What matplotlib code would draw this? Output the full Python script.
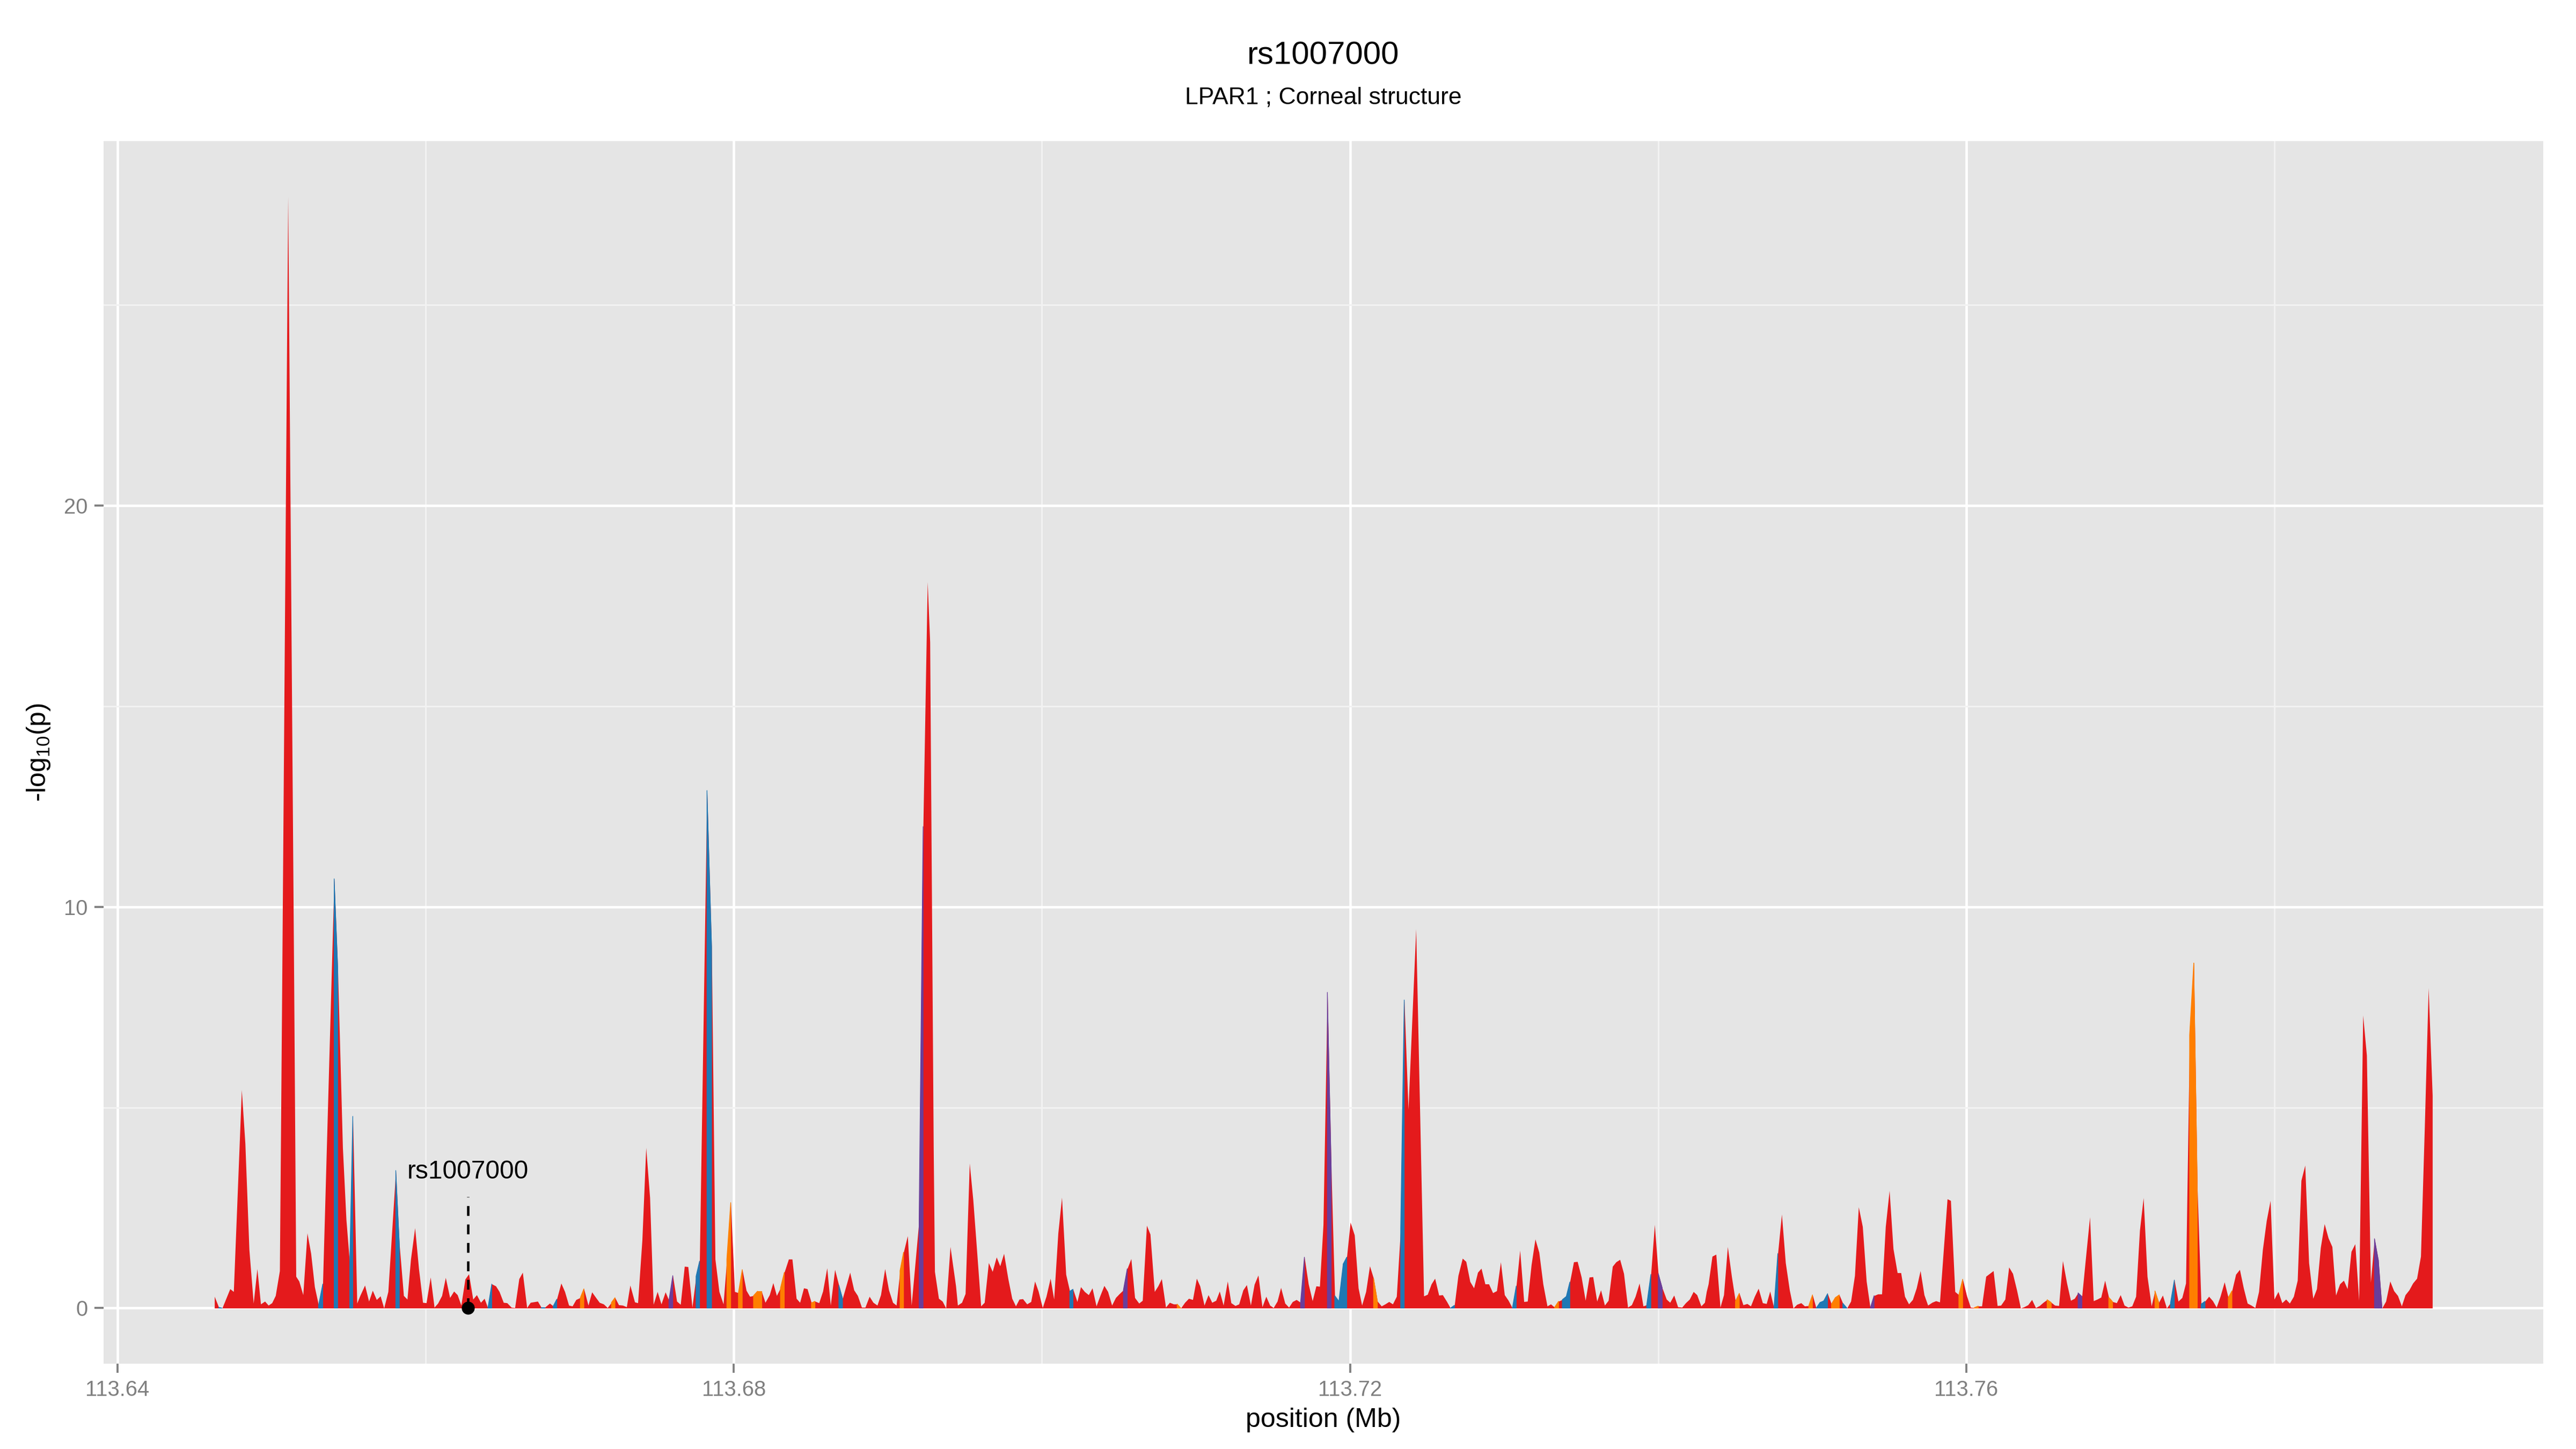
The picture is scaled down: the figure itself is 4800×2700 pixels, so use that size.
import matplotlib.pyplot as plt
import numpy as np
from matplotlib.collections import PolyCollection

plt.rcParams['font.family'] = ['Liberation Sans', 'DejaVu Sans']
plt.rcParams['mathtext.default'] = 'regular'

snp_name = 'rs1007000'
snp_position = 113.66273
subtitle = 'LPAR1 ; Corneal structure'

# SNP positions (Mb) and -log10(p)
position = [
    113.64629, 113.64657, 113.64679, 113.64730, 113.64753, 113.64805, 113.64828, 113.64854, 113.64882, 113.64906,
    113.64929, 113.64956, 113.64979, 113.65002, 113.65025, 113.65052, 113.65067, 113.65106, 113.65145, 113.65158,
    113.65178, 113.65204, 113.65231, 113.65255, 113.65279, 113.65305, 113.65332, 113.65406, 113.65429, 113.65461,
    113.65484, 113.65507, 113.65527, 113.65554, 113.65574, 113.65605, 113.65631, 113.65655, 113.65681, 113.65706,
    113.65729, 113.65756, 113.65806, 113.65829, 113.65857, 113.65880, 113.65903, 113.65930, 113.65955, 113.65981,
    113.66004, 113.66031, 113.66056, 113.66079, 113.66105, 113.66129, 113.66157, 113.66183, 113.66206, 113.66230,
    113.66256, 113.66280, 113.66307, 113.66331, 113.66357, 113.66381, 113.66404, 113.66429, 113.66455, 113.66478,
    113.66505, 113.66528, 113.66556, 113.66579, 113.66606, 113.66629, 113.66657, 113.66680, 113.66727, 113.66750,
    113.66774, 113.66805, 113.66828, 113.66851, 113.66879, 113.66903, 113.66929, 113.66952, 113.66976,
    113.67004, 113.67027, 113.67055, 113.67079, 113.67105, 113.67128, 113.67155, 113.67180, 113.67206, 113.67229,
    113.67253, 113.67279, 113.67304, 113.67327, 113.67357, 113.67377, 113.67405, 113.67430, 113.67455, 113.67478,
    113.67504, 113.67529, 113.67556, 113.67579, 113.67604, 113.67630, 113.67654, 113.67680, 113.67703, 113.67730,
    113.67755, 113.67778, 113.67826, 113.67856, 113.67879, 113.67905, 113.67932, 113.67955, 113.67980, 113.68006,
    113.68030, 113.68055, 113.68081, 113.68104, 113.68128, 113.68154, 113.68180, 113.68204, 113.68232, 113.68255,
    113.68278, 113.68303, 113.68328, 113.68356, 113.68379, 113.68406, 113.68429, 113.68454, 113.68477, 113.68504,
    113.68527, 113.68553, 113.68578, 113.68605, 113.68628, 113.68656, 113.68682, 113.68706, 113.68729, 113.68754,
    113.68780, 113.68804, 113.68830, 113.68853, 113.68880, 113.68905, 113.68931, 113.68954, 113.68981, 113.69006,
    113.69032, 113.69055, 113.69079, 113.69102, 113.69128, 113.69153, 113.69203, 113.69229, 113.69257, 113.69273,
    113.69296, 113.69304, 113.69330, 113.69354, 113.69377, 113.69405,
    113.69441, 113.69453, 113.69480, 113.69503, 113.69530, 113.69553, 113.69578, 113.69604, 113.69627, 113.69654,
    113.69679, 113.69705, 113.69728, 113.69753, 113.69780, 113.69806, 113.69830, 113.69853, 113.69876, 113.69903,
    113.69929, 113.69954, 113.69977, 113.70004, 113.70028, 113.70055, 113.70078, 113.70105, 113.70129, 113.70156,
    113.70181, 113.70202, 113.70229, 113.70252, 113.70277, 113.70303, 113.70327, 113.70353, 113.70378, 113.70404,
    113.70428, 113.70454, 113.70479, 113.70504, 113.70529, 113.70554, 113.70579, 113.70603, 113.70630, 113.70653,
    113.70680, 113.70703, 113.70731, 113.70754, 113.70777, 113.70804, 113.70829, 113.70855, 113.70878, 113.70902,
    113.70928, 113.70953, 113.70979, 113.71004, 113.71026, 113.71054, 113.71080, 113.71104, 113.71130, 113.71153,
    113.71178, 113.71205, 113.71228, 113.71255, 113.71279, 113.71306, 113.71329, 113.71355, 113.71379, 113.71404,
    113.71430, 113.71455, 113.71480, 113.71503, 113.71528, 113.71551, 113.71578, 113.71603, 113.71627, 113.71652,
    113.71679, 113.71704, 113.71730, 113.71756, 113.71780, 113.71803, 113.71826, 113.71853,
    113.71878, 113.71901, 113.71928, 113.71956, 113.71979, 113.72002, 113.72029, 113.72054, 113.72077, 113.72103,
    113.72128, 113.72153, 113.72178, 113.72204, 113.72228, 113.72253, 113.72277, 113.72302, 113.72329, 113.72352,
    113.72378, 113.72428, 113.72479, 113.72503, 113.72528, 113.72551, 113.72577, 113.72601, 113.72627, 113.72652,
    113.72678, 113.72702, 113.72730, 113.72753, 113.72779, 113.72804, 113.72829, 113.72852, 113.72877, 113.72901,
    113.72927, 113.72952, 113.72978, 113.73003, 113.73028, 113.73054, 113.73079, 113.73103, 113.73129, 113.73152,
    113.73177, 113.73202, 113.73227, 113.73253, 113.73280, 113.73303, 113.73328, 113.73354, 113.73378, 113.73404,
    113.73427, 113.73452, 113.73476, 113.73502, 113.73528, 113.73553, 113.73577, 113.73603, 113.73628, 113.73653,
    113.73677, 113.73704, 113.73727, 113.73752, 113.73777, 113.73803, 113.73828, 113.73852, 113.73878, 113.73903,
    113.73926, 113.73953, 113.73977, 113.74001, 113.74027, 113.74054, 113.74077, 113.74103, 113.74128, 113.74155,
    113.74179, 113.74204, 113.74229, 113.74252, 113.74279, 113.74302,
    113.74314, 113.74326, 113.74351, 113.74376, 113.74403, 113.74426, 113.74451, 113.74477, 113.74502, 113.74527,
    113.74552, 113.74578, 113.74601, 113.74626, 113.74651, 113.74678, 113.74703, 113.74726, 113.74752, 113.74777,
    113.74802, 113.74827, 113.74853, 113.74877, 113.74901, 113.74928, 113.74951, 113.74978, 113.75002, 113.75026,
    113.75051, 113.75075, 113.75100, 113.75125, 113.75150, 113.75176, 113.75199, 113.75226, 113.75251, 113.75276,
    113.75301, 113.75327, 113.75352, 113.75377, 113.75402, 113.75427, 113.75452, 113.75476, 113.75501, 113.75526,
    113.75553, 113.75576, 113.75601, 113.75627, 113.75652, 113.75677, 113.75702, 113.75727, 113.75751, 113.75778,
    113.75803, 113.75828, 113.75877, 113.75899, 113.75927, 113.75952, 113.75977, 113.76003, 113.76028, 113.76051,
    113.76078, 113.76101, 113.76128, 113.76152, 113.76176, 113.76202, 113.76225, 113.76252, 113.76277, 113.76302,
    113.76328, 113.76353, 113.76376, 113.76401, 113.76426, 113.76451, 113.76476, 113.76500, 113.76525, 113.76552,
    113.76575, 113.76601, 113.76626, 113.76653, 113.76678, 113.76703, 113.76726,
    113.76751, 113.76776, 113.76802, 113.76826, 113.76850, 113.76875, 113.76900, 113.76925, 113.76950, 113.76976,
    113.77001, 113.77026, 113.77051, 113.77076, 113.77101, 113.77126, 113.77150, 113.77175, 113.77202, 113.77225,
    113.77250, 113.77275, 113.77301, 113.77326, 113.77351, 113.77376, 113.77401, 113.77425, 113.77450, 113.77477,
    113.77500, 113.77525, 113.77550, 113.77575, 113.77600, 113.77624, 113.77649, 113.77676, 113.77701, 113.77725,
    113.77750, 113.77775, 113.77800, 113.77825, 113.77850, 113.77875, 113.77899, 113.77924, 113.77949, 113.77974,
    113.77999, 113.78025, 113.78050, 113.78075, 113.78099, 113.78125, 113.78150, 113.78174, 113.78199, 113.78224,
    113.78251, 113.78275, 113.78300, 113.78325, 113.78350, 113.78375, 113.78399, 113.78425, 113.78450, 113.78474,
    113.78499, 113.78524, 113.78549, 113.78575, 113.78599, 113.78625, 113.78650, 113.78675, 113.78699, 113.78724,
    113.78751, 113.78776, 113.78801, 113.78826, 113.78850, 113.78875, 113.78899, 113.78925, 113.78950, 113.78975,
    113.79000, 113.79026,
]

log_p = [
    0.29, 0.02, 0.00, 0.48, 0.41, 5.44, 4.10, 1.46, 0.12, 0.98,
    0.10, 0.17, 0.07, 0.13, 0.31, 0.93, 8.00, 27.70, 8.00, 0.79,
    0.67, 0.33, 1.87, 1.36, 0.53, 0.07, 0.60, 10.70, 8.50, 4.00,
    2.20, 1.10, 4.78, 0.12, 0.31, 0.57, 0.17, 0.44, 0.21, 0.30,
    0.00, 0.41, 3.43, 1.60, 0.31, 0.22, 1.22, 2.00, 0.98, 0.14,
    0.13, 0.77, 0.02, 0.12, 0.31, 0.76, 0.26, 0.42, 0.33, 0.07,
    0.72, 0.85, 0.22, 0.33, 0.14, 0.24, 0.00, 0.60, 0.55, 0.41,
    0.14, 0.13, 0.02, 0.01, 0.73, 0.89, 0.01, 0.14, 0.17, 0.02,
    0.02, 0.12, 0.05, 0.22, 0.62, 0.41, 0.07, 0.05, 0.21,
    0.26, 0.48, 0.07, 0.40, 0.26, 0.14, 0.10, 0.01, 0.14, 0.26,
    0.08, 0.07, 0.03, 0.57, 0.15, 0.13, 1.70, 4.00, 2.75, 0.09,
    0.41, 0.10, 0.40, 0.19, 0.81, 0.17, 0.09, 1.04, 1.03, 0.02,
    0.79, 1.17, 12.90, 9.00, 1.22, 0.41, 0.10, 1.22, 2.63, 0.41,
    0.38, 0.96, 0.44, 0.29, 0.31, 0.42, 0.42, 0.14, 0.33, 0.63,
    0.31, 0.50, 0.89, 1.22, 1.22, 0.24, 0.14, 0.50, 0.48, 0.13,
    0.17, 0.13, 0.42, 1.00, 0.07, 0.96, 0.57, 0.24, 0.55, 0.89,
    0.45, 0.31, 0.02, 0.02, 0.29, 0.14, 0.07, 0.33, 0.98, 0.45,
    0.14, 0.07, 0.93, 1.39, 1.80, 0.07, 2.20, 12.00, 18.10, 16.60,
    4.00, 0.91, 0.24, 0.17, 0.00, 1.53,
    0.55, 0.07, 0.14, 0.36, 3.61, 2.70, 1.41, 0.05, 0.14, 1.13,
    0.91, 1.27, 1.05, 1.36, 0.74, 0.24, 0.05, 0.22, 0.23, 0.10,
    0.16, 0.67, 0.42, 0.01, 0.29, 0.74, 0.22, 1.87, 2.76, 0.84,
    0.42, 0.47, 0.16, 0.53, 0.41, 0.33, 0.50, 0.05, 0.31, 0.56,
    0.41, 0.07, 0.26, 0.36, 0.45, 0.98, 1.23, 0.26, 0.12, 0.19,
    2.06, 1.84, 0.41, 0.55, 0.73, 0.02, 0.14, 0.10, 0.10, 0.00,
    0.14, 0.24, 0.21, 0.74, 0.55, 0.07, 0.33, 0.14, 0.19, 0.42,
    0.07, 0.67, 0.13, 0.06, 0.10, 0.45, 0.58, 0.07, 0.59, 0.82,
    0.03, 0.29, 0.07, 0.01, 0.17, 0.51, 0.12, 0.02, 0.16, 0.21,
    0.14, 1.27, 0.60, 0.18, 0.55, 0.54, 2.08, 7.87,
    3.50, 0.31, 0.17, 1.10, 1.27, 2.14, 1.82, 0.50, 0.07, 0.41,
    1.05, 0.74, 0.17, 0.05, 0.10, 0.16, 0.10, 0.29, 2.00, 7.68,
    4.95, 9.45, 0.30, 0.34, 0.60, 0.74, 0.32, 0.33, 0.17, 0.00,
    0.07, 0.81, 1.24, 1.16, 0.66, 0.50, 0.89, 0.99, 0.60, 0.60,
    0.38, 0.43, 1.15, 0.33, 0.19, 0.00, 0.55, 1.44, 0.16, 0.17,
    1.08, 1.72, 1.39, 0.60, 0.05, 0.10, 0.02, 0.17, 0.21, 0.29,
    0.65, 1.15, 1.16, 0.77, 0.19, 0.77, 0.78, 0.17, 0.45, 0.07,
    0.19, 1.04, 1.15, 1.21, 0.86, 0.02, 0.08, 0.29, 0.62, 0.05,
    0.08, 0.84, 2.08, 0.86, 0.50, 0.22, 0.14, 0.32, 0.03, 0.02,
    0.13, 0.22, 0.41, 0.33, 0.05, 0.14,
    0.41, 0.60, 1.29, 1.34, 0.02, 0.33, 1.53, 0.79, 0.17, 0.37,
    0.08, 0.11, 0.05, 0.29, 0.49, 0.13, 0.11, 0.42, 0.00, 1.36,
    2.34, 1.13, 0.45, 0.00, 0.09, 0.13, 0.05, 0.06, 0.33, 0.00,
    0.14, 0.18, 0.36, 0.10, 0.26, 0.33, 0.12, 0.00, 0.17, 0.81,
    2.52, 2.03, 0.67, 0.00, 0.31, 0.35, 0.35, 2.03, 2.93, 1.48,
    0.88, 0.88, 0.29, 0.10, 0.21, 0.50, 0.93, 0.33, 0.07, 0.14,
    0.18, 0.15, 2.72, 2.68, 0.41, 0.33, 0.72, 0.31, 0.02, 0.01,
    0.05, 0.05, 0.79, 0.86, 0.93, 0.06, 0.07, 0.22, 1.02, 0.86,
    0.45, 0.00, 0.03, 0.08, 0.21, 0.01, 0.06, 0.14, 0.21, 0.14,
    0.07, 0.06, 1.18, 0.62, 0.19, 0.24, 0.38,
    0.29, 1.27, 2.27, 0.18, 0.22, 0.27, 0.69, 0.27, 0.16, 0.13,
    0.33, 0.07, 0.02, 0.05, 0.29, 1.94, 2.75, 0.79, 0.05, 0.43,
    0.14, 0.32, 0.00, 0.13, 0.70, 0.17, 0.26, 0.62, 6.80, 8.60,
    3.00, 0.10, 0.17, 0.29, 0.18, 0.02, 0.29, 0.65, 0.26, 0.43,
    0.84, 0.96, 0.50, 0.12, 0.07, 0.01, 0.41, 1.46, 2.18, 2.68,
    0.22, 0.41, 0.13, 0.22, 0.12, 0.29, 0.69, 3.18, 3.56, 1.13,
    0.24, 0.48, 1.51, 2.10, 1.75, 1.53, 0.32, 0.60, 0.69, 0.48,
    1.41, 1.60, 0.19, 7.30, 6.30, 0.64, 1.73, 1.20, 0.00, 0.17,
    0.67, 0.43, 0.31, 0.05, 0.33, 0.45, 0.62, 0.74, 1.29, 4.50,
    7.98, 5.30,
]

# SNPs whose following stretch is drawn in another class colour (rest are red)
blue_snps = [113.64657, 113.65305, 113.65406, 113.65507, 113.65806, 113.66404, 113.66750, 113.66828,
             113.67755, 113.67826, 113.68682, 113.70181, 113.71901, 113.71928, 113.71956, 113.72329,
             113.72652, 113.73054, 113.73378, 113.73404, 113.73926, 113.74752, 113.75026, 113.75051,
             113.75075, 113.75199, 113.77326, 113.77525]
purple_snps = [113.67579, 113.69203, 113.70529, 113.71679, 113.71853, 113.74001, 113.75377, 113.76726,
               113.78650, 113.78675]
orange_snps = [113.67004, 113.67206, 113.67955, 113.68030, 113.68128, 113.68154, 113.68303, 113.68504,
               113.69079, 113.70878, 113.72153, 113.73328, 113.74502, 113.74978, 113.75125, 113.75150,
               113.75952, 113.76051, 113.76525, 113.76925, 113.77225, 113.77450, 113.77477, 113.77701]

x_ticks = [113.64, 113.68, 113.72, 113.76]
x_minor = [113.66, 113.70, 113.74, 113.78]
y_ticks = [0, 10, 20]
y_minor = [5, 15, 25]

red = '#E41A1C'
class_colors = {'blue': '#1F78B4', 'purple': '#6A3D9A', 'orange': '#FF7F00'}

x = np.array(position)
y = np.array(log_p)
assert len(x) == len(y)

fig = plt.figure(figsize=(16, 9), dpi=300)
ax = fig.add_axes([0.0402, 0.0589, 0.9471, 0.8437])
ax.set_facecolor('#E5E5E5')

# whole area in red, then the other classes laid over their stretches
ax.fill_between(x, y, 0, color=red, lw=0, zorder=2)
for name, snps in [('blue', blue_snps), ('purple', purple_snps), ('orange', orange_snps)]:
    starts = np.isclose(x[:-1, None], np.array(snps)[None, :], rtol=0, atol=2e-6).any(axis=1)
    polys = []
    for i in np.where(starts)[0]:
        polys.append([(x[i], 0), (x[i], y[i]), (x[i + 1], y[i + 1]), (x[i + 1], 0)])
    pc = PolyCollection(polys, facecolors=class_colors[name], edgecolors=class_colors[name],
                        linewidths=0.3, zorder=3)
    ax.add_collection(pc)

# marked SNP
ax.plot([snp_position, snp_position], [0, 2.78], color='black', lw=1.1,
        ls=(0, (4, 3.5)), zorder=4)
ax.plot(snp_position, 0, 'o', color='black', ms=4.8, zorder=5)
ax.text(snp_position, 3.23, snp_name, ha='center', va='baseline', fontsize=11.5, zorder=5)

# ggplot-like expansion of 5%
span = x.max() - x.min()
ax.set_xlim(x.min() - 0.05 * span, x.max() + 0.05 * span)
ymax = y.max()
ax.set_ylim(-0.05 * ymax, ymax * 1.05)

ax.set_xticks(x_ticks)
ax.set_xticklabels(['%.2f' % t for t in x_ticks])
ax.set_xticks(x_minor, minor=True)
ax.set_yticks(y_ticks)
ax.set_yticks(y_minor, minor=True)

ax.grid(which='major', color='white', lw=1.1)
ax.grid(which='minor', color='#F2F2F2', lw=0.75)
ax.set_axisbelow(True)
for s in ax.spines.values():
    s.set_visible(False)
ax.tick_params(which='major', length=4.1, width=0.9, color='#7F7F7F', labelcolor='#7F7F7F',
               labelsize=9.6, pad=3)
ax.tick_params(which='minor', length=0)

ax.set_xlabel('position (Mb)', fontsize=12)
ax.xaxis.set_label_coords(0.5, -0.036)
ax.set_ylabel('-log$_{10}$(p)', fontsize=12)
ax.yaxis.set_label_coords(-0.021, 0.5)

fig.text(0.5137, 0.9559, snp_name, ha='center', va='baseline', fontsize=14.4)
fig.text(0.5137, 0.9282, subtitle, ha='center', va='baseline', fontsize=10.7)

fig.savefig('out.png', dpi=300)
